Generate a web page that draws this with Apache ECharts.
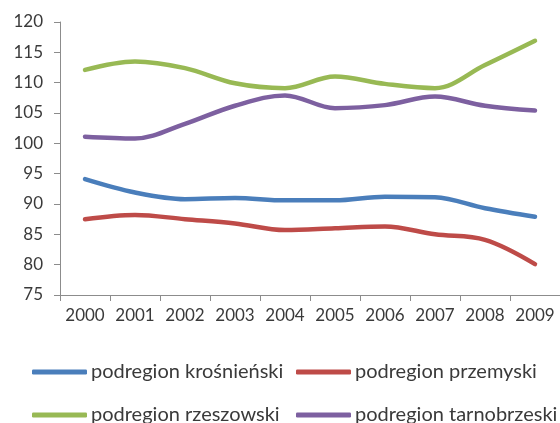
<!DOCTYPE html>
<html>
<head>
<meta charset="utf-8">
<script src="https://cdn.jsdelivr.net/npm/echarts@6/dist/echarts.min.js"></script>
<style>
  html, body { margin: 0; padding: 0; background: #fff; }
  #chart { width: 560px; height: 423px; }
</style>
</head>
<body>
<div id="chart"></div>
<script>
const years = ['2000', '2001', '2002', '2003', '2004', '2005', '2006', '2007', '2008', '2009']
const krosnienski = [94.1, 91.9, 90.8, 91.0, 90.6, 90.6, 91.2, 91.1, 89.3, 87.9]
const przemyski = [87.5, 88.2, 87.5, 86.8, 85.7, 86.0, 86.3, 85.0, 84.1, 80.1]
const rzeszowski = [112.1, 113.5, 112.4, 109.9, 109.1, 111.0, 109.8, 109.1, 112.9, 116.9]
const tarnobrzeski = [101.1, 100.8, 103.2, 106.2, 107.9, 105.8, 106.3, 107.7, 106.2, 105.4]

const names = ['podregion krośnieński', 'podregion przemyski', 'podregion rzeszowski', 'podregion tarnobrzeski']
const colors = ['#4A7EBB', '#BE4B48', '#98B954', '#7D60A0']
const values = [krosnienski, przemyski, rzeszowski, tarnobrzeski]

const fontFamily = 'Lato, "Open Sans", sans-serif'
const textColor = '#3a3a3a'
const axisColor = '#8c8c8c'

const chart = echarts.init(document.getElementById('chart'), null, { renderer: 'canvas' })

// one legend per item, so the columns line up
const legendPos = [
  { left: 32, top: 362 },
  { left: 296, top: 362 },
  { left: 32, top: 405 },
  { left: 296, top: 405 }
]
const legends = names.map((name, i) => ({
  data: [name],
  left: legendPos[i].left,
  top: legendPos[i].top,
  icon: 'roundRect',
  itemWidth: 55,
  itemHeight: 5,
  itemGap: 4,
  padding: 0,
  textStyle: { fontFamily, fontSize: 20, color: textColor, padding: [0, 0, 0, -1] }
}))

const option = {
  animation: false,
  color: colors,
  legend: legends,
  grid: { left: 60, right: 0, top: 22, bottom: 128, containLabel: false },
  xAxis: {
    type: 'category',
    data: years,
    boundaryGap: true,
    axisLine: { lineStyle: { color: axisColor, width: 1 } },
    axisTick: { show: true, length: 6, lineStyle: { color: axisColor } },
    axisLabel: { fontFamily, fontSize: 17, color: textColor, margin: 12, interval: 0 },
    splitLine: { show: false }
  },
  yAxis: {
    type: 'value',
    min: 75,
    max: 120,
    interval: 5,
    axisLine: { show: true, lineStyle: { color: axisColor, width: 1 } },
    axisTick: { show: true, length: 6, lineStyle: { color: axisColor } },
    axisLabel: { fontFamily, fontSize: 17, color: textColor, margin: 17 },
    splitLine: { show: false }
  },
  series: names.map((name, i) => ({
    name,
    type: 'line',
    data: values[i],
    smooth: 0.35,
    showSymbol: false,
    lineStyle: { width: 4.5, color: colors[i], cap: 'round' },
    itemStyle: { color: colors[i] }
  }))
}

chart.setOption(option)
</script>
</body>
</html>
